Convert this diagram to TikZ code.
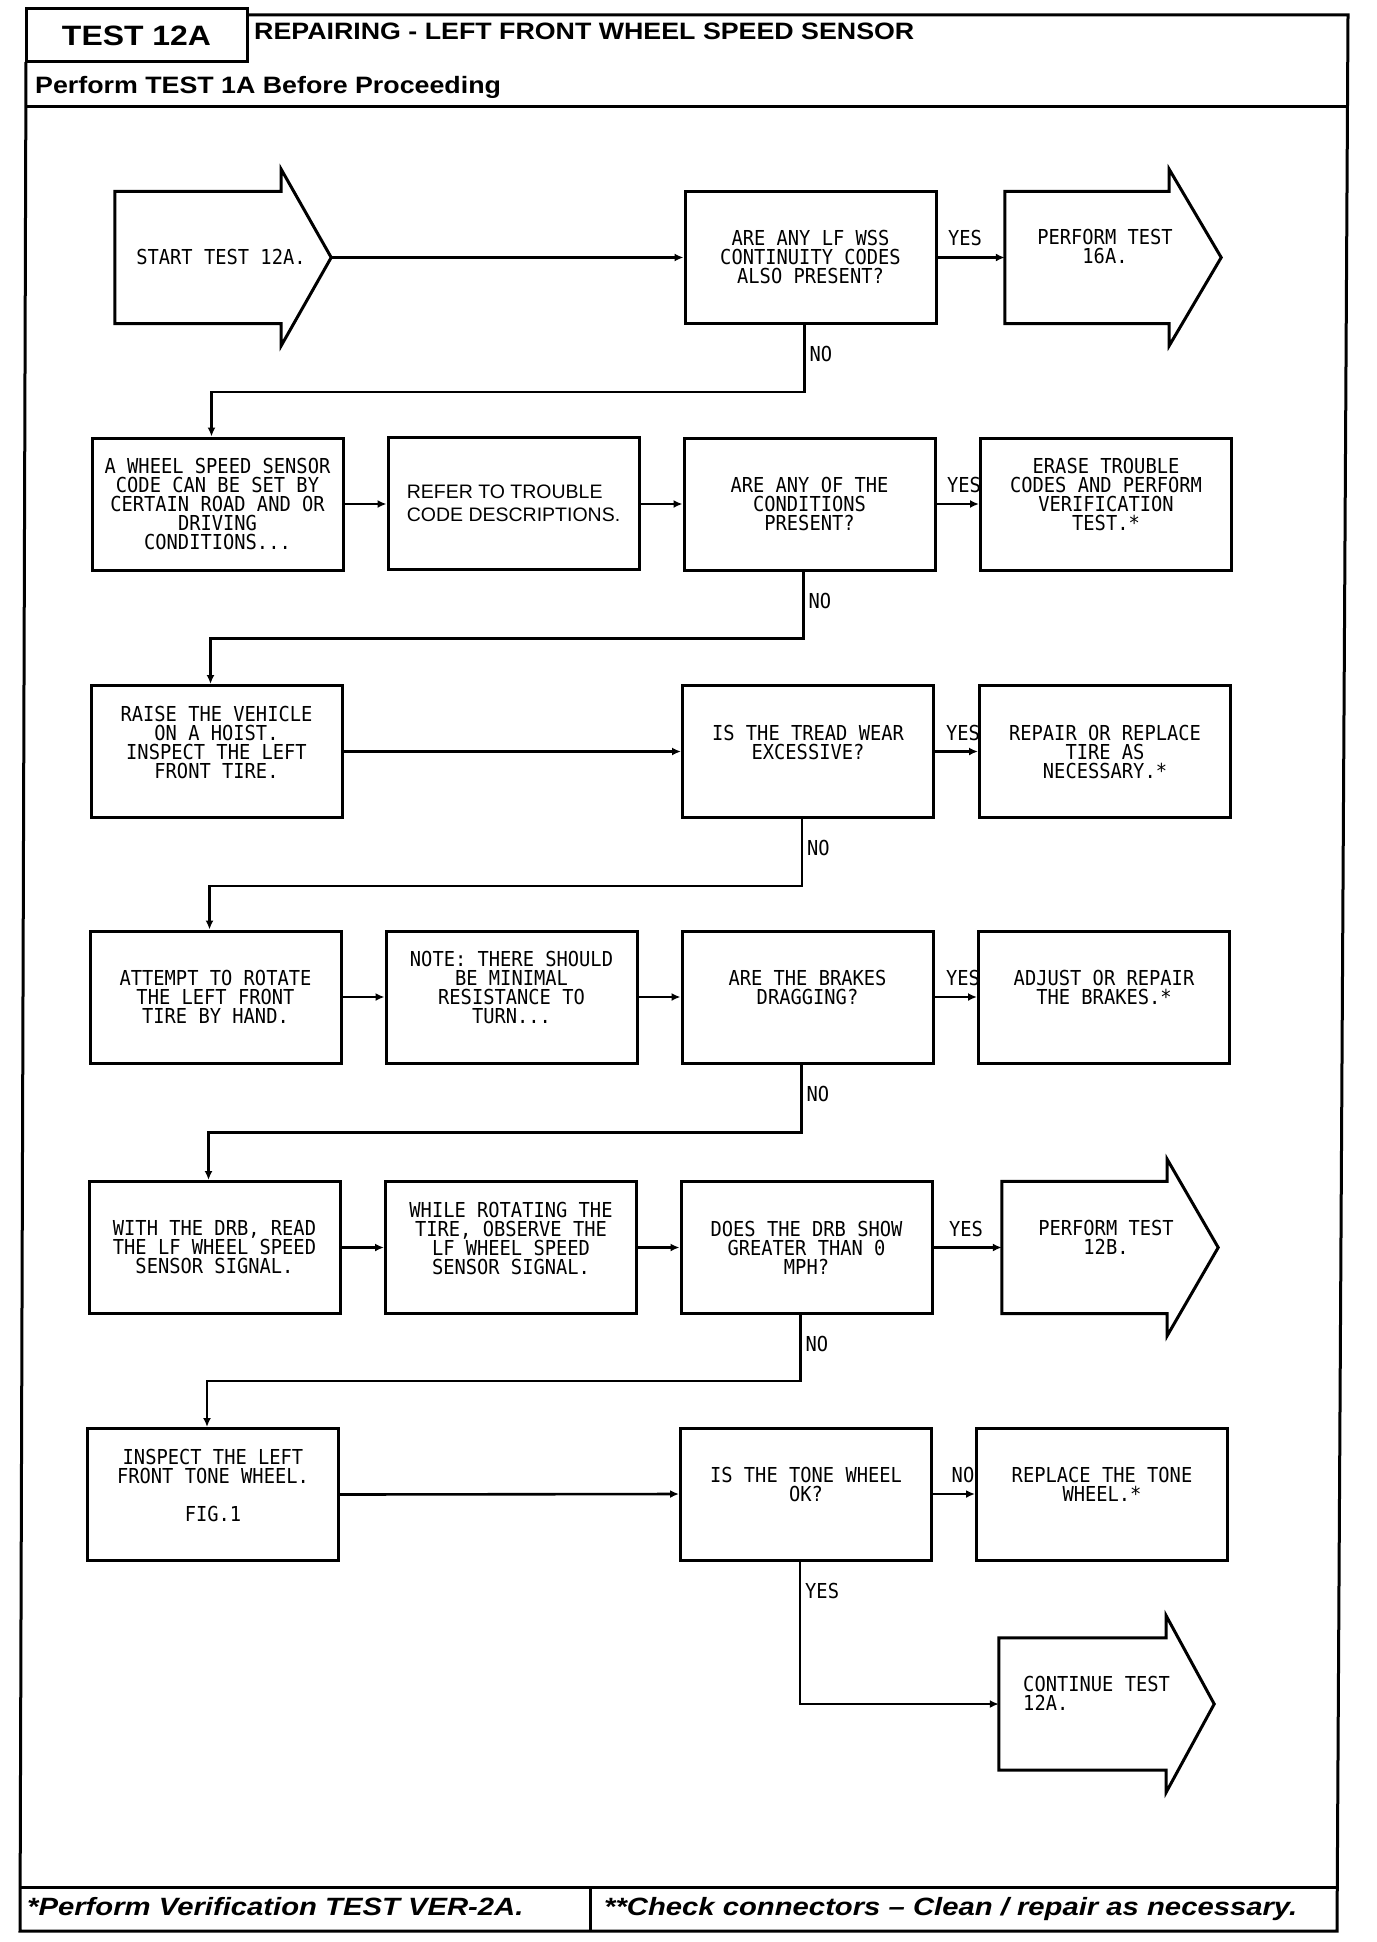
\documentclass[tikz,border=0pt]{standalone}
\usepackage{fontspec}
\usepackage{graphicx}
\usetikzlibrary{arrows.meta,calc}
\newfontfamily\plotfont[FakeStretch=0.91]{DejaVu Sans Mono}
\newfontfamily\helv{Liberation Sans}
\newcommand{\plotsize}{\fontsize{20.6pt}{19pt}\selectfont}
\begin{document}
\begin{tikzpicture}[x=1pt,y=-1pt,
  box/.style={draw, line width=3pt, minimum width=251pt, minimum height=132pt, inner sep=0pt, align=center, font=\plotfont\plotsize},
  body/.style={minimum width=#1, minimum height=132pt, inner sep=0pt},
  conn/.style={line width=2.6pt, -{Latex[length=9pt,width=8pt]}},
  lbl/.style={inner sep=0pt, font=\plotfont\plotsize},
  frame/.style={line width=3pt},
  arrowshape/.style={draw, line width=3pt, line join=miter},
  hfont/.style={inner sep=0pt, font=\helv\bfseries\fontsize{23.7pt}{24pt}\selectfont},
  ffont/.style={inner sep=0pt, font=\helv\bfseries\itshape\fontsize{25pt}{26pt}\selectfont}
]
\useasboundingbox (0,0) rectangle (1376,1942);

% ---------- header and frame ----------
\node[draw, line width=3pt, minimum width=221pt, minimum height=53pt, inner sep=0pt,
      font=\helv\bfseries\fontsize{28pt}{28pt}\selectfont] (hdr) at (136.5,35.5) {\scalebox{1.14}[1]{TEST 12A}};
\node[hfont, anchor=base west] (title) at (254,40) {\scalebox{1.13}[1]{REPAIRING - LEFT FRONT WHEEL SPEED SENSOR}};
\node[hfont, anchor=base west] (perf) at (35,93.5) {\scalebox{1.13}[1]{Perform TEST 1A Before Proceeding}};
\draw[frame] (247,15) -- (1348,15) -- (1337,1931) -- (20,1931) -- (26,62);
\draw[frame] (25.8,107) -- (1347.5,107);
\draw[frame] (20.1,1887) -- (1337.3,1887);
\draw[frame] (590,1887) -- (590,1931);
\node[ffont, anchor=base west] (foot1) at (27,1915) {\scalebox{1.17}[1]{*Perform Verification TEST VER-2A.}};
\node[ffont, anchor=base west] (foot2) at (604,1915) {\scalebox{1.17}[1]{**Check connectors – Clean / repair as necessary.}};

% ---------- row 1 ----------
\node[body=166pt] (start) at (198,257.5) {};
\draw[arrowshape] (start.north west) -- (start.north east) -- ++(0,-22) -- ($(start.east)+(50,0)$) -- ($(start.south east)+(0,22)$) -- (start.south east) -- (start.south west) -- cycle;
\coordinate (starttip) at ($(start.east)+(50,0)$);
\node[lbl] (starttxt) at (221,257.5) {START TEST 12A.};

\node[box] (d1) at (810.5,257.5) {ARE ANY LF WSS\\CONTINUITY CODES\\ALSO PRESENT?};

\node[body=164pt] (p16) at (1087,257.5) {};
\draw[arrowshape] (p16.north west) -- (p16.north east) -- ++(0,-22) -- ($(p16.east)+(52,0)$) -- ($(p16.south east)+(0,22)$) -- (p16.south east) -- (p16.south west) -- cycle;
\node[lbl, align=center] (p16txt) at (1105,246.5) {PERFORM TEST\\16A.};

% ---------- row 2 ----------
\node[box] (a) at (217.5,504) {A WHEEL SPEED SENSOR\\CODE CAN BE SET BY\\CERTAIN ROAD AND OR\\DRIVING\\CONDITIONS...};
\node[box, align=left, font=\helv\fontsize{19.5pt}{23pt}\selectfont] (refer) at (513.5,503) {REFER TO TROUBLE\\CODE DESCRIPTIONS.};
\node[box] (d2) at (809.5,504) {ARE ANY OF THE\\CONDITIONS\\PRESENT?};
\node[box] (erase) at (1106,504) {ERASE TROUBLE\\CODES AND PERFORM\\VERIFICATION\\TEST.*\\\mbox{}};

% ---------- row 3 ----------
\node[box] (raise) at (216.5,751.5) {RAISE THE VEHICLE\\ON A HOIST.\\INSPECT THE LEFT\\FRONT TIRE.\\\mbox{}};
\node[box] (d3) at (808,751.5) {IS THE TREAD WEAR\\EXCESSIVE?\\\mbox{}};
\node[box] (repair) at (1105,751.5) {REPAIR OR REPLACE\\TIRE AS\\NECESSARY.*};

% ---------- row 4 ----------
\node[box] (attempt) at (215.5,997) {ATTEMPT TO ROTATE\\THE LEFT FRONT\\TIRE BY HAND.};
\node[box] (note) at (511.5,997) {NOTE: THERE SHOULD\\BE MINIMAL\\RESISTANCE TO\\TURN...\\\mbox{}};
\node[box] (d4) at (807.5,997) {ARE THE BRAKES\\DRAGGING?\\\mbox{}};
\node[box] (adjust) at (1104,997) {ADJUST OR REPAIR\\THE BRAKES.*\\\mbox{}};

% ---------- row 5 ----------
\node[box] (withdrb) at (214.5,1247.5) {WITH THE DRB, READ\\THE LF WHEEL SPEED\\SENSOR SIGNAL.};
\node[box] (while) at (511,1247.5) {WHILE ROTATING THE\\TIRE, OBSERVE THE\\LF WHEEL SPEED\\SENSOR SIGNAL.\\\mbox{}};
\node[box] (d5) at (806.5,1247.5) {DOES THE DRB SHOW\\GREATER THAN 0\\MPH?};
\node[body=165pt] (p12b) at (1084.5,1247.5) {};
\draw[arrowshape] (p12b.north west) -- (p12b.north east) -- ++(0,-22) -- ($(p12b.east)+(51,0)$) -- ($(p12b.south east)+(0,22)$) -- (p12b.south east) -- (p12b.south west) -- cycle;
\node[lbl, align=center] (p12btxt) at (1106,1237.5) {PERFORM TEST\\12B.};

% ---------- row 6 ----------
\node[box] (inspect) at (213,1494.5) {INSPECT THE LEFT\\FRONT TONE WHEEL.\\\mbox{}\\FIG.1\\\mbox{}};
\node[box] (d6) at (806,1494) {IS THE TONE WHEEL\\OK?\\\mbox{}};
\node[box] (replace) at (1102,1494) {REPLACE THE TONE\\WHEEL.*\\\mbox{}};

% ---------- row 7 ----------
\node[body=167pt] (cont) at (1082.5,1704) {};
\draw[arrowshape] (cont.north west) -- (cont.north east) -- ++(0,-22) -- ($(cont.east)+(48,0)$) -- ($(cont.south east)+(0,22)$) -- (cont.south east) -- (cont.south west) -- cycle;
\node[lbl, align=left, anchor=west] (conttxt) at (1023,1693.5) {CONTINUE TEST\\12A.};

% ---------- connectors ----------
\draw[conn] (starttip) -- (d1.west);
\draw[conn] (d1.east) -- (p16.west);
\draw[conn] ($(d1.south)+(-6,0)$) -- ++(0,67) -| ($(a.north)+(-6,0)$);
\draw[conn] (a.east) -- (refer.west |- a.east);
\draw[conn] (refer.east |- a.east) -- (d2.west);
\draw[conn] (d2.east) -- (erase.west);
\draw[conn] ($(d2.south)+(-6,0)$) -- ++(0,67) -| ($(raise.north)+(-6,0)$);
\draw[conn] (raise.east) -- (d3.west);
\draw[conn] (d3.east) -- (repair.west);
\draw[conn] ($(d3.south)+(-6,0)$) -- ++(0,67) -| ($(attempt.north)+(-6,0)$);
\draw[conn] (attempt.east) -- (note.west);
\draw[conn] (note.east) -- (d4.west);
\draw[conn] (d4.east) -- (adjust.west);
\draw[conn] ($(d4.south)+(-6,0)$) -- ++(0,68) -| ($(withdrb.north)+(-6,0)$);
\draw[conn] (withdrb.east) -- (while.west);
\draw[conn] (while.east) -- (d5.west);
\draw[conn] (d5.east) -- (p12b.west);
\draw[conn] ($(d5.south)+(-6,0)$) -- ++(0,66) -| ($(inspect.north)+(-6,0)$);
\draw[conn] (inspect.east) -- (d6.west);
\draw[conn] (d6.east) -- (replace.west);
\draw[conn] ($(d6.south)+(-6,0)$) |- (cont.west);

% ---------- labels ----------
\node[lbl] (yes1) at (965,238) {YES};
\node[lbl, anchor=west] (no1) at ($(d1.south)+(-1,29)$) {NO};
\node[lbl] (yes2) at (964,485) {YES};
\node[lbl, anchor=west] (no2) at ($(d2.south)+(-1,29)$) {NO};
\node[lbl] (yes3) at (963,732.5) {YES};
\node[lbl, anchor=west] (no3) at ($(d3.south)+(-1,29)$) {NO};
\node[lbl] (yes4) at (963,978) {YES};
\node[lbl, anchor=west] (no4) at ($(d4.south)+(-1,29)$) {NO};
\node[lbl] (yes5) at (966,1228.5) {YES};
\node[lbl, anchor=west] (no5) at ($(d5.south)+(-1,29)$) {NO};
\node[lbl] (no6) at (963,1475) {NO};
\node[lbl, anchor=west] (yes6) at ($(d6.south)+(-1,29)$) {YES};
\end{tikzpicture}
\end{document}
